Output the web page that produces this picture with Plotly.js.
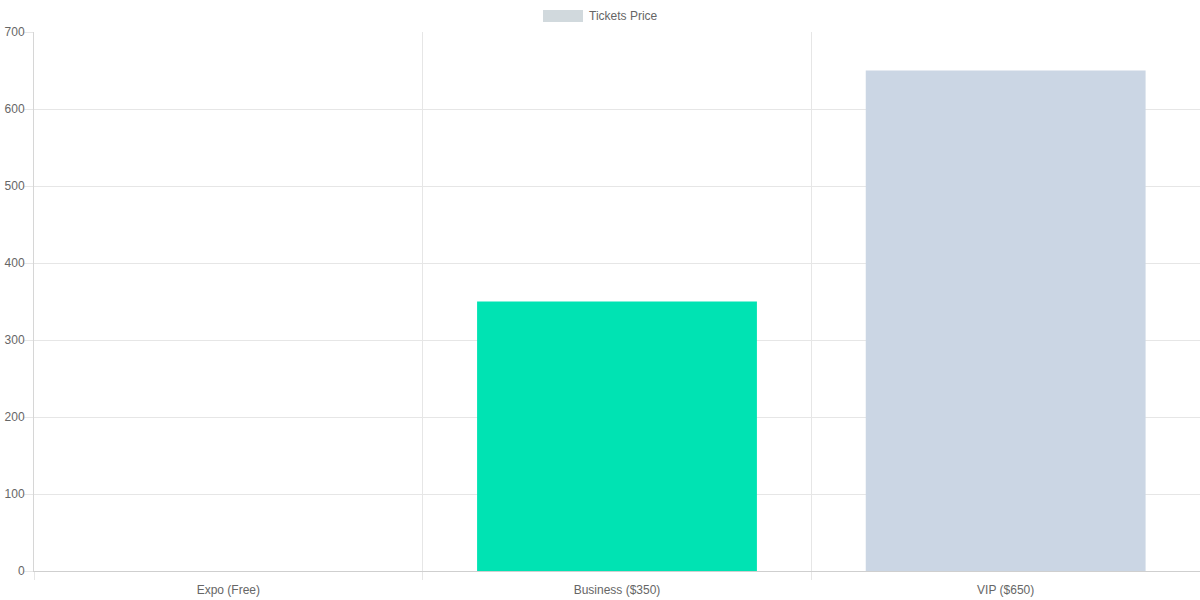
<!DOCTYPE html>
<html>
<head>
<meta charset="utf-8">
<script src="https://cdn.plot.ly/plotly-3.0.1.min.js"></script>
<style>
  html, body { margin: 0; padding: 0; background: #fff; }
  #chart { width: 1200px; height: 600px; }
</style>
</head>
<body>
<div id="chart"></div>
<script>
// ticket tiers and their prices
var tiers = ['Expo (Free)', 'Business ($350)', 'VIP ($650)'];
var prices = [0, 350, 650];
var barColors = ['#d1d9dd', '#00e3b3', '#cbd6e4'];
var seriesName = 'Tickets Price';

var trace = {
  type: 'bar',
  x: tiers,
  y: prices,
  name: seriesName,
  marker: { color: barColors, line: { width: 0 } },
  showlegend: false,
  hoverinfo: 'x+y'
};

var font = { family: 'Liberation Sans, Arial, sans-serif', size: 12, color: '#666' };

// chart.js style legend: wide swatch + label above the plot
function px2x(p) { return (p - 34) / 1166; }
function px2y(p) { return (571 - p) / 539; }

var layout = {
  width: 1200,
  height: 600,
  margin: { l: 34, r: 0, t: 32, b: 29 },
  paper_bgcolor: '#fff',
  plot_bgcolor: '#fff',
  font: font,
  bargap: 0.28,
  showlegend: false,
  shapes: [{
    type: 'rect', xref: 'paper', yref: 'paper',
    x0: px2x(543), x1: px2x(583), y0: px2y(22), y1: px2y(10),
    fillcolor: barColors[0], line: { width: 0 }
  }],
  annotations: [{
    xref: 'paper', yref: 'paper',
    x: px2x(587), y: px2y(16),
    xanchor: 'left', yanchor: 'middle',
    text: seriesName, showarrow: false, font: font
  }],
  xaxis: {
    type: 'category',
    tickson: 'boundaries',
    showgrid: true,
    gridcolor: '#e6e6e6',
    ticks: 'outside',
    ticklen: 8,
    tickcolor: '#e6e6e6',
    ticklabelstandoff: 8,
    showline: true,
    linecolor: '#cfcfcf',
    zeroline: false,
    tickfont: font,
    fixedrange: true
  },
  yaxis: {
    range: [0, 700],
    dtick: 100,
    tick0: 0,
    showgrid: true,
    gridcolor: '#e6e6e6',
    ticks: 'outside',
    ticklen: 9,
    tickcolor: '#e6e6e6',
    ticklabelstandoff: -3,
    showline: true,
    linecolor: '#d6d6d6',
    zeroline: true,
    zerolinecolor: '#cfcfcf',
    tickfont: font,
    fixedrange: true
  }
};

Plotly.newPlot('chart', [trace], layout, { displayModeBar: false, staticPlot: true });
</script>
</body>
</html>
